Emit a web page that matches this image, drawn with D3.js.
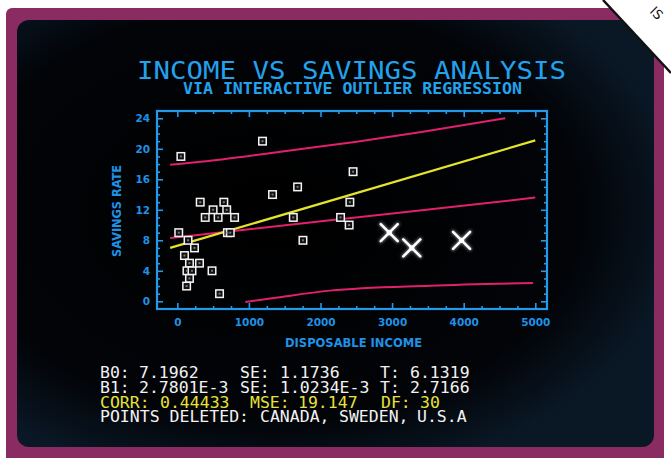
<!DOCTYPE html>
<html>
<head>
<meta charset="utf-8">
<script src="https://cdn.jsdelivr.net/npm/d3@7"></script>
<style>
  html, body { margin: 0; padding: 0; background: #fff; }
  svg { display: block; }
</style>
</head>
<body>
<script>
// ---------- DATA ----------
const sqIncome  = [50, 320, 650, 500, 690, 390, 570, 800, 20, 700, 740, 150, 240, 100, 170, 310, 135, 205, 485, 170, 130, 590,
                   1190, 2455, 1680, 1330, 2410, 1620, 2280, 2400, 1755];
const sqSavings = [19, 13, 13, 12, 12, 11, 11, 11, 9, 9, 9, 8, 7, 6, 5, 5, 4, 4, 4, 3, 2, 1,
                   21, 17, 15, 14, 13, 11, 11, 10, 8];
const deletedNames   = ["CANADA", "SWEDEN", "U.S.A"];
const deletedIncome  = [2960, 3275, 3970];
const deletedSavings = [9, 7, 8];

const fitX = [-100, 5000];            // yellow regression line (outliers deleted)
const fitY = [7.0, 21.1];
const fullFitX = [-100, 1000, 3100, 5000];   // pink middle line (all points)
const fullFitY = [8.3, 9.45, 11.6, 13.6];
const upperX = [-100, 620, 1550, 2480, 3410, 4580];
const upperY = [17.9, 18.6, 19.75, 20.9, 22.2, 24.0];
const lowerX = [950, 1400, 2130, 3530, 4970];
const lowerY = [-0.1, 0.5, 1.4, 2.05, 2.4];

const xTicks = [0, 1000, 2000, 3000, 4000, 5000];
const yTicks = [0, 4, 8, 12, 16, 20, 24];

const titleText = "INCOME VS SAVINGS ANALYSIS";
const subtitleText = "VIA INTERACTIVE OUTLIER REGRESSION";
const xTitle = "DISPOSABLE INCOME";
const yTitle = "SAVINGS RATE";

const statLine1 = ["B0:", "7.1962", "SE:", "1.1736", "T:", "6.1319"];
const statLine2 = ["B1:", "2.7801E-3", "SE:", "1.0234E-3", "T:", "2.7166"];
const statLine3 = ["CORR:", "0.44433", "MSE:", "19.147", "DF:", "30"];
const statLine4 = ["POINTS DELETED:", deletedNames[0] + ",", deletedNames[1] + ",", deletedNames[2]];

// ---------- SETUP ----------
const W = 671, H = 458;
const svg = d3.select("body").append("svg").attr("width", W).attr("height", H);
const defs = svg.append("defs");

const rg = defs.append("radialGradient").attr("id", "scr").attr("cx", "40%").attr("cy", "45%").attr("r", "65%");
rg.append("stop").attr("offset", "0%").attr("stop-color", "#000000");
rg.append("stop").attr("offset", "75%").attr("stop-color", "#020408");
rg.append("stop").attr("offset", "100%").attr("stop-color", "#0a1826");

const glow = defs.append("filter").attr("id", "glow").attr("x", "-50%").attr("y", "-50%").attr("width", "200%").attr("height", "200%");
glow.append("feGaussianBlur").attr("stdDeviation", 1.4);

// page + bezel
svg.append("rect").attr("width", W).attr("height", H).attr("fill", "#ffffff");
svg.append("rect").attr("x", 6).attr("y", 8).attr("width", 658).attr("height", 460).attr("rx", 6).attr("fill", "#8a2b62");
svg.append("rect").attr("x", 17).attr("y", 20).attr("width", 637).attr("height", 427).attr("rx", 12).attr("fill", "url(#scr)");

// white corner tag
svg.append("path").attr("d", "M603,0 L671,0 L671,73 Z").attr("fill", "#ffffff");
svg.append("line").attr("x1", 603).attr("y1", 0).attr("x2", 671).attr("y2", 73)
  .attr("stroke", "#111").attr("stroke-width", 2.5);
svg.append("text").attr("transform", "translate(649,12) rotate(45)")
  .attr("font-family", "DejaVu Sans").attr("font-size", 13).attr("fill", "#111").text("IS");

// ---------- TITLES ----------
svg.append("text").attr("x", 351.5).attr("y", 78.5).attr("text-anchor", "middle")
  .attr("font-family", "DejaVu Sans Mono").attr("font-size", 24).attr("fill", "#22a2ec")
  .attr("textLength", 429).attr("lengthAdjust", "spacingAndGlyphs").text(titleText);
svg.append("text").attr("x", 352.5).attr("y", 93.5).attr("text-anchor", "middle")
  .attr("font-family", "DejaVu Sans Mono").attr("font-weight", "bold").attr("font-size", 15).attr("fill", "#22a2ec")
  .attr("textLength", 339).attr("lengthAdjust", "spacingAndGlyphs").text(subtitleText);

// ---------- SCALES ----------
const x = d3.scaleLinear().domain([0, 5000]).range([177.3, 535.3]);
const y = d3.scaleLinear().domain([0, 24]).range([301.3, 118.3]);
const fL = 157, fR = 547, fT = 111, fB = 309;
const blue = "#2299ea";

const minorX = d3.range(0, 5001, 250).filter(v => v % 1000 !== 0);
const minorY = d3.range(0, 25, 1).filter(v => v % 4 !== 0);

function styleAxis(g) {
  g.select(".domain").remove();
  g.selectAll(".tick line").attr("stroke", blue).attr("stroke-width", 1.6);
  g.selectAll(".tick text").attr("fill", "#1f92e6").attr("font-family", "DejaVu Sans")
    .attr("font-weight", "bold").attr("font-size", 10.5);
}
const fmt = d3.format("d");
svg.append("g").attr("transform", `translate(${fL},0)`).call(d3.axisLeft(y).tickValues(yTicks).tickSize(-6).tickPadding(7).tickFormat(fmt)).call(styleAxis);
svg.append("g").attr("transform", `translate(${fL},0)`).call(d3.axisLeft(y).tickValues(minorY).tickSize(-3).tickFormat("")).call(styleAxis);
svg.append("g").attr("transform", `translate(${fR},0)`).call(d3.axisRight(y).tickValues(yTicks).tickSize(-6).tickFormat("")).call(styleAxis);
svg.append("g").attr("transform", `translate(${fR},0)`).call(d3.axisRight(y).tickValues(minorY).tickSize(-3).tickFormat("")).call(styleAxis);
svg.append("g").attr("transform", `translate(0,${fB})`).call(d3.axisBottom(x).tickValues(xTicks).tickSize(-6).tickPadding(10).tickFormat(fmt)).call(styleAxis);
svg.append("g").attr("transform", `translate(0,${fB})`).call(d3.axisBottom(x).tickValues(minorX).tickSize(-3).tickFormat("")).call(styleAxis);
svg.append("g").attr("transform", `translate(0,${fT})`).call(d3.axisTop(x).tickValues(xTicks).tickSize(-6).tickFormat("")).call(styleAxis);
svg.append("g").attr("transform", `translate(0,${fT})`).call(d3.axisTop(x).tickValues(minorX).tickSize(-3).tickFormat("")).call(styleAxis);

svg.append("rect").attr("x", fL).attr("y", fT).attr("width", fR - fL).attr("height", fB - fT)
  .attr("fill", "none").attr("stroke", blue).attr("stroke-width", 2.2);

// axis titles
svg.append("text").attr("x", 353.5).attr("y", 346.5).attr("text-anchor", "middle")
  .attr("font-family", "DejaVu Sans").attr("font-weight", "bold").attr("font-size", 11.5).attr("fill", "#1f92e6")
  .attr("textLength", 137).attr("lengthAdjust", "spacingAndGlyphs").text(xTitle);
svg.append("text").attr("transform", "translate(120.5,211) rotate(-90)").attr("text-anchor", "middle")
  .attr("font-family", "DejaVu Sans").attr("font-weight", "bold").attr("font-size", 11.5).attr("fill", "#1f92e6")
  .attr("textLength", 92).attr("lengthAdjust", "spacingAndGlyphs").text(yTitle);

// ---------- LINES ----------
const line = d3.line().x(d => x(d[0])).y(d => y(d[1])).curve(d3.curveMonotoneX);
const pink = "#e2206c";
const plot = svg.append("g");
plot.append("path").datum(d3.zip(upperX, upperY)).attr("d", line).attr("fill", "none").attr("stroke", pink).attr("stroke-width", 2);
plot.append("path").datum(d3.zip(fullFitX, fullFitY)).attr("d", line).attr("fill", "none").attr("stroke", pink).attr("stroke-width", 2);
plot.append("path").datum(d3.zip(lowerX, lowerY)).attr("d", line).attr("fill", "none").attr("stroke", pink).attr("stroke-width", 2);
plot.append("path").datum(d3.zip(fitX, fitY)).attr("d", line).attr("fill", "none").attr("stroke", "#e4e42c").attr("stroke-width", 2.2);

// ---------- POINTS ----------
const sq = 7.5;
plot.selectAll("rect.pt").data(d3.zip(sqIncome, sqSavings)).join("rect").attr("class", "pt")
  .attr("x", d => x(d[0]) - sq / 2).attr("y", d => y(d[1]) - sq / 2)
  .attr("width", sq).attr("height", sq)
  .attr("fill", "#111").attr("stroke", "#f4f4f4").attr("stroke-width", 1.5);
plot.selectAll("rect.dot").data(d3.zip(sqIncome, sqSavings)).join("rect").attr("class", "dot")
  .attr("x", d => x(d[0]) - 1).attr("y", d => y(d[1]) - 1).attr("width", 2).attr("height", 2).attr("fill", "#777");

const xs = 8.5;
const crosses = plot.selectAll("g.x").data(d3.zip(deletedIncome, deletedSavings)).join("g").attr("class", "x")
  .attr("transform", d => `translate(${x(d[0])},${y(d[1])})`);
[["#ffffff", 4, "url(#glow)"], ["#ffffff", 2.6, null]].forEach(([c, w, f]) => {
  crosses.append("path").attr("d", `M${-xs},${-xs}L${xs},${xs}M${-xs},${xs}L${xs},${-xs}`)
    .attr("stroke", c).attr("stroke-width", w).attr("stroke-linecap", "round").attr("fill", "none")
    .attr("filter", f).attr("opacity", f ? 0.45 : 1);
});
crosses.append("circle").attr("r", 2.6).attr("fill", "#ffffff");

// ---------- STATS ----------
const statFont = { family: "DejaVu Sans Mono", size: 16.5 };
function statRow(parts, xs, yb, color) {
  parts.forEach((t, i) => {
    svg.append("text").attr("x", xs[i]).attr("y", yb)
      .attr("font-family", statFont.family).attr("font-size", statFont.size).attr("fill", color).text(t);
  });
}
statRow(statLine1, [100, 139, 240, 280, 380, 410], 378, "#f2f2f2");
statRow(statLine2, [100, 139, 240, 280, 380, 410], 393, "#f2f2f2");
statRow(statLine3, [100, 160, 250, 298, 381, 420], 407.5, "#e6e238");
statRow(statLine4, [100, 260, 339, 417], 422, "#f2f2f2");
</script>
</body>
</html>
